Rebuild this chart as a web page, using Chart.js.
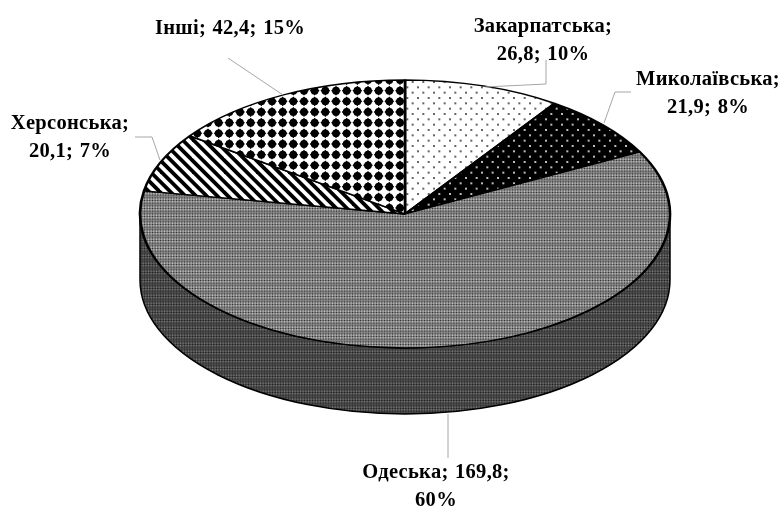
<!DOCTYPE html>
<html>
<head>
<meta charset="utf-8">
<style>
  html, body { margin: 0; padding: 0; background: #fff; }
  canvas { display: block; }
</style>
<script src="https://cdn.jsdelivr.net/npm/chart.js@4"></script>
</head>
<body>
<canvas id="pie" width="782" height="506"></canvas>
<script>
// data
const categories = ['Закарпатська', 'Миколаївська', 'Одеська', 'Херсонська', 'Інші'];
const values = [26.8, 21.9, 169.8, 20.1, 42.4];
const percents = [10, 8, 60, 7, 15];

// how the label text breaks into lines, per category (1 = break after name, 2 = after value)
const labelBreaks = [1, 1, 2, 1, 0];

// page position of the flattened pie
const PIE = { x: 405, y: 214, rx: 265, ry: 134, depth: 66 };
const RIM_SLICE = 2;

const LABEL_FONT = 'bold 20.5px "Liberation Serif"';
const LABEL_LINE = 27.5;
const labelPos = [
    { x: 543, y: 32 },
    { x: 708, y: 85 },
    { x: 436, y: 478 },
    { x: 70, y: 129 },
    { x: 230, y: 34 }
];
const leaders = [
    [[546, 60], [546, 84], [485, 87]],
    [[631, 92], [615, 92], [604, 123]],
    [[448, 414], [448, 458]],
    [[135, 137], [152, 137], [160, 160]],
    [[228, 58], [283, 95]]
];

// START OF PATTERNS
const canvas = document.getElementById('pie');
const mainCtx = canvas.getContext('2d');
const P = 32 / 3;

function makeTile(size, paint) {
    const c = document.createElement('canvas');
    c.width = size;
    c.height = size;
    paint(c.getContext('2d'), size);
    return mainCtx.createPattern(c, 'repeat');
}

function dotTile(bg, fg) {
    return makeTile(32, (g, s) => {
        g.fillStyle = bg;
        g.fillRect(0, 0, s, s);
        g.fillStyle = fg;
        for (let i = 0; i < 6; i++) {
            for (let j = 0; j < 3; j++) {
                g.fillRect(j * P + (i % 2) * P / 2 + 1, i * P / 2 + 1, 2, 2);
            }
        }
    });
}

function diamondTile() {
    return makeTile(32, (g, s) => {
        g.fillStyle = '#fff';
        g.fillRect(0, 0, s, s);
        g.fillStyle = '#000';
        for (let i = 0; i < 3; i++) {
            for (let j = 0; j < 3; j++) {
                const x = j * P + P / 2, y = i * P + P / 2, r = 4.9;
                g.beginPath();
                g.moveTo(x - r, y); g.lineTo(x, y - r); g.lineTo(x + r, y); g.lineTo(x, y + r);
                g.closePath();
                g.arc(x, y, 3.9, 0, Math.PI * 2);
                g.fill();
            }
        }
    });
}

function stripeTile() {
    return makeTile(32, (g, s) => {
        g.fillStyle = '#fff';
        g.fillRect(0, 0, s, s);
        g.strokeStyle = '#000';
        g.lineWidth = 3.8;
        for (let k = -4; k < 8; k++) {
            g.beginPath();
            g.moveTo(k * P - 8, -8);
            g.lineTo(k * P + 40, 40);
            g.stroke();
        }
    });
}

function weaveTile(bg, light, dark) {
    return makeTile(8, (g, s) => {
        g.fillStyle = bg;
        g.fillRect(0, 0, s, s);
        for (let i = 0; i < 3; i++) {
            for (let j = 0; j < 3; j++) {
                const x = j * s / 3, y = i * s / 3;
                g.fillStyle = dark;
                g.fillRect(x, y, 1, 1);
                if (i % 2 === 0) {
                    g.fillStyle = light;
                    g.fillRect(x + 1.33, y + 1.33, 1, 1);
                }
            }
        }
    });
}

const rimPattern = weaveTile('#484848', '#909090', '#222');
const slicePatterns = [
    dotTile('#fff', '#666'),
    dotTile('#000', '#bbb'),
    weaveTile('#808080', '#e0e0e0', '#333'),
    stripeTile(),
    diamondTile()
];
// END OF PATTERNS

// START OF 3D PIE PLUGIN
function pieFit(chart) {
    const el = chart.getDatasetMeta(0).data[0];
    return { cx: el.x, cy: el.y, sx: PIE.rx / el.outerRadius, sy: PIE.ry / el.outerRadius };
}

const flatPie = {
    id: 'flatPie',
    beforeDatasetsDraw(chart) {
        // the side wall belongs to the slice that faces the viewer
        const ctx = chart.ctx;
        const el = chart.getDatasetMeta(0).data[RIM_SLICE];
        const a0 = Math.max(el.startAngle, 0);
        const a1 = Math.min(el.endAngle, Math.PI);
        ctx.save();
        ctx.beginPath();
        ctx.ellipse(PIE.x, PIE.y + PIE.depth, PIE.rx, PIE.ry, 0, a0, a1);
        ctx.ellipse(PIE.x, PIE.y, PIE.rx, PIE.ry, 0, a1, a0, true);
        ctx.closePath();
        ctx.fillStyle = rimPattern;
        ctx.fill();
        ctx.strokeStyle = '#000';
        ctx.lineWidth = 1.5;
        ctx.stroke();
        ctx.restore();
    },
    beforeDatasetDraw(chart) {
        const f = pieFit(chart);
        const ctx = chart.ctx;
        ctx.save();
        ctx.translate(PIE.x, PIE.y);
        ctx.scale(f.sx, f.sy);
        ctx.translate(-f.cx, -f.cy);
        // keep the fills on the pixel grid while the arcs are squashed
        const inverse = new DOMMatrix().translate(f.cx, f.cy).scale(1 / f.sx, 1 / f.sy).translate(-PIE.x, -PIE.y);
        slicePatterns.forEach(p => p.setTransform(inverse));
    },
    afterDatasetDraw(chart) {
        chart.ctx.restore();
    },
    afterDraw(chart) {
        const ctx = chart.ctx;
        ctx.save();
        ctx.strokeStyle = '#a6a6a6';
        ctx.lineWidth = 1;
        leaders.forEach(line => {
            ctx.beginPath();
            line.forEach((p, i) => i ? ctx.lineTo(p[0], p[1]) : ctx.moveTo(p[0], p[1]));
            ctx.stroke();
        });
        ctx.fillStyle = '#000';
        ctx.font = LABEL_FONT;
        ctx.wordSpacing = '1px';
        ctx.letterSpacing = '0.3px';
        ctx.textAlign = 'center';
        ctx.textBaseline = 'alphabetic';
        categories.forEach((name, i) => {
            const value = values[i].toFixed(1).replace('.', ',');
            const parts = [name + ';', value + ';', percents[i] + '%'];
            const cut = labelBreaks[i];
            const lines = cut === 0 ? [parts.join(' ')] : [parts.slice(0, cut).join(' '), parts.slice(cut).join(' ')];
            lines.forEach((t, k) => ctx.fillText(t, labelPos[i].x, labelPos[i].y + k * LABEL_LINE));
        });
        ctx.restore();
    }
};
// END OF 3D PIE PLUGIN

new Chart(canvas, {
    type: 'pie',
    data: {
        labels: categories,
        datasets: [{
            data: values,
            backgroundColor: slicePatterns,
            borderColor: '#000',
            borderWidth: 2.5
        }]
    },
    options: {
        responsive: false,
        animation: false,
        plugins: { legend: { display: false }, tooltip: { enabled: false } }
    },
    plugins: [flatPie]
});
</script>
</body>
</html>
